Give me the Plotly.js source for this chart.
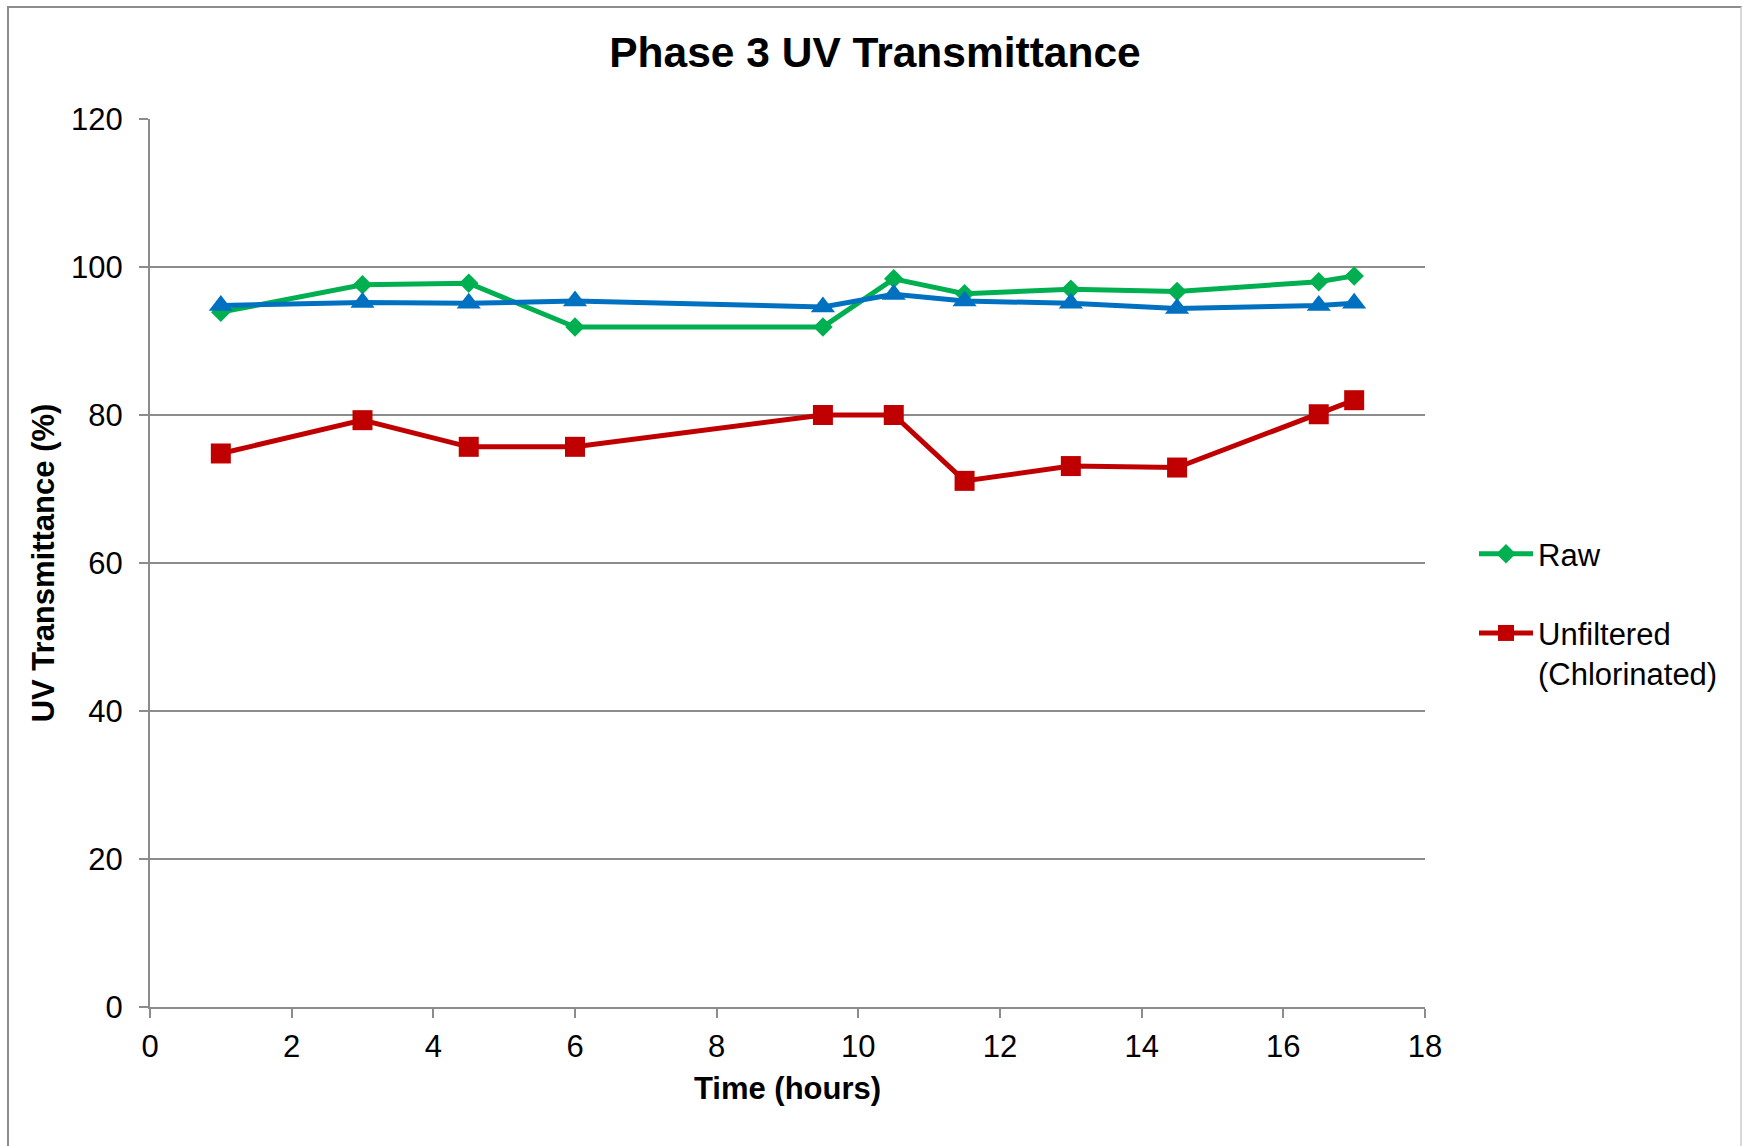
<!DOCTYPE html>
<html>
<head>
<meta charset="utf-8">
<script src="https://cdn.plot.ly/plotly-3.0.1.min.js"></script>
<style>
  html, body { margin: 0; padding: 0; background: #ffffff; }
  #frame { position: absolute; left: 7px; top: 6px; width: 1735px; height: 1140px;
           border-left: 2px solid #8c8c8c; border-top: 2px solid #8c8c8c; border-right: 2px solid #d9d9d9; box-sizing: border-box; }
  #chart { position: absolute; left: 0; top: 0; width: 1743px; height: 1146px; }
</style>
</head>
<body>
<div id="frame"></div>
<div id="chart"></div>
<script>
const timeHours = [1, 3, 4.5, 6, 9.5, 10.5, 11.5, 13, 14.5, 16.5, 17];
const rawValues = [93.9, 97.6, 97.8, 91.9, 91.9, 98.4, 96.4, 97.0, 96.7, 98.0, 98.8];
const filteredValues = [94.8, 95.2, 95.1, 95.4, 94.6, 96.3, 95.4, 95.1, 94.4, 94.8, 95.1];
const unfilteredValues = [74.8, 79.3, 75.7, 75.7, 80.0, 80.0, 71.1, 73.1, 72.9, 80.1, 82.0];
const xTickValues = [0, 2, 4, 6, 8, 10, 12, 14, 16, 18];
const yTickValues = [0, 20, 40, 60, 80, 100, 120];

const FONT = 'Liberation Sans, Arial, sans-serif';

const traces = [
  {
    x: timeHours, y: rawValues, name: 'Raw', legendgroup: 'a',
    type: 'scatter', mode: 'lines+markers',
    line: {color: '#00B050', width: 5},
    marker: {symbol: 'diamond', size: 15, color: '#00B050'}
  },
  {
    x: timeHours, y: unfilteredValues, name: 'Unfiltered<br>(Chlorinated)', legendgroup: 'b',
    type: 'scatter', mode: 'lines+markers',
    line: {color: '#C00000', width: 5},
    marker: {symbol: 'square', size: 20, color: '#C00000'}
  },
  {
    x: timeHours, y: filteredValues, name: 'Filtered', legendgroup: 'c', showlegend: false,
    type: 'scatter', mode: 'lines+markers',
    line: {color: '#0070C0', width: 5},
    marker: {symbol: 'triangle-up', size: 21, color: '#0070C0'}
  }
];

const layout = {
  width: 1743, height: 1146,
  paper_bgcolor: 'rgba(0,0,0,0)', plot_bgcolor: '#ffffff',
  margin: {l: 150, r: 318, t: 119, b: 139, autoexpand: false},
  font: {family: FONT, size: 31, color: '#000000'},
  title: {
    text: '<b>Phase 3 UV Transmittance</b>',
    font: {family: FONT, size: 42.5, color: '#000000'},
    x: 875 / 1743, xanchor: 'center', y: 1 - 52 / 1146, yanchor: 'middle'
  },
  xaxis: {
    range: [0, 18], tickvals: xTickValues, ticktext: xTickValues.map(String),
    showgrid: false, zeroline: false,
    showline: true, linecolor: '#8c8c8c', linewidth: 2,
    ticks: 'outside', ticklen: 9, tickcolor: '#8c8c8c', tickwidth: 2,
    tickfont: {family: FONT, size: 31, color: '#000000'},
    ticklabelstandoff: 2,
    title: {text: '<b>Time (hours)</b>', font: {family: FONT, size: 31, color: '#000000'}, standoff: 14},
    automargin: false
  },
  yaxis: {
    range: [0, 120], tickvals: yTickValues, ticktext: yTickValues.map(String),
    showgrid: true, gridcolor: '#8c8c8c', gridwidth: 2, zeroline: false,
    showline: true, linecolor: '#8c8c8c', linewidth: 2,
    ticks: 'outside', ticklen: 9, tickcolor: '#8c8c8c', tickwidth: 2,
    tickfont: {family: FONT, size: 31, color: '#000000'},
    ticklabelstandoff: 10,
    title: {text: '<b>UV Transmittance (%)</b>', font: {family: FONT, size: 31, color: '#000000'}, standoff: 7},
    automargin: false
  },
  showlegend: true,
  legend: {
    x: (1474 - 150) / 1275, xanchor: 'left',
    y: 1 - (527 - 119) / 888, yanchor: 'top',
    traceorder: 'grouped', tracegroupgap: 36, valign: 'top',
    font: {family: FONT, size: 31, color: '#000000'},
    bgcolor: 'rgba(0,0,0,0)', itemwidth: 54
  }
};

Plotly.newPlot('chart', traces, layout, {displayModeBar: false, staticPlot: true});
</script>
</body>
</html>
